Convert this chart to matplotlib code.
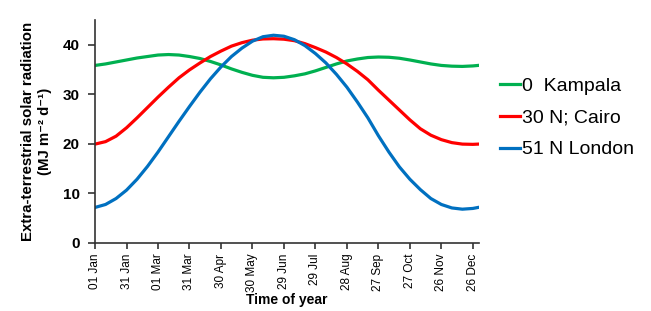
import matplotlib
matplotlib.use('Agg')
import matplotlib.pyplot as plt

# day of year (0 = 01 Jan), values in MJ m-2 d-1
days = [0, 10, 20, 30, 40, 50, 60, 70, 80, 90, 100, 110, 120, 130, 140, 150, 160, 170, 180,
        190, 200, 210, 220, 230, 240, 250, 260, 270, 280, 290, 300, 310, 320, 330, 340, 350,
        360, 365]

kampala = [35.8, 36.1, 36.5, 36.9, 37.3, 37.6, 37.9, 38.0, 37.9, 37.6, 37.2, 36.6, 35.9,
           35.1, 34.4, 33.8, 33.4, 33.3, 33.4, 33.7, 34.1, 34.7, 35.4, 36.1, 36.7, 37.1,
           37.4, 37.5, 37.45, 37.25, 36.9, 36.5, 36.1, 35.8, 35.65, 35.6, 35.7, 35.8]
cairo = [19.9, 20.4, 21.5, 23.2, 25.2, 27.3, 29.4, 31.4, 33.3, 34.9, 36.3, 37.6, 38.7,
         39.7, 40.4, 40.9, 41.15, 41.2, 41.1, 40.8, 40.2, 39.4, 38.5, 37.4, 36.1, 34.6,
         32.9, 30.8, 28.8, 26.8, 24.8, 23.0, 21.7, 20.8, 20.2, 19.9, 19.85, 19.9]
london = [7.1, 7.7, 8.9, 10.6, 12.8, 15.4, 18.3, 21.4, 24.5, 27.5, 30.4, 33.1, 35.5,
          37.6, 39.3, 40.7, 41.6, 41.9, 41.7, 41.0, 39.8, 38.2, 36.3, 34.0, 31.4, 28.4,
          25.2, 21.6, 18.3, 15.3, 12.8, 10.7, 8.9, 7.7, 7.0, 6.75, 6.9, 7.1]

tick_days = [0, 30, 60, 90, 120, 150, 180, 210, 240, 270, 300, 330, 360]
tick_labels = ['01 Jan', '31 Jan', '01 Mar', '31 Mar', '30 Apr', '30 May', '29 Jun',
               '29 Jul', '28 Aug', '27 Sep', '27 Oct', '26 Nov', '26 Dec']

plt.rcParams['font.family'] = ['Liberation Sans', 'DejaVu Sans']

fig = plt.figure(figsize=(6.51, 3.11), dpi=100)
ax = fig.add_axes([0.146, 0.22, 0.59, 0.716])

ax.plot(days, kampala, color='#00B050', lw=2.3, label='0  Kampala')
ax.plot(days, cairo, color='#FF0000', lw=2.3, label='30 N; Cairo')
ax.plot(days, london, color='#0070C0', lw=2.3, label='51 N London')

ax.set_xlim(0, 366)
ax.set_ylim(0, 45)
ax.set_yticks([0, 10, 20, 30, 40])
ax.set_xticks(tick_days)
ax.set_xticklabels(tick_labels, rotation=90, fontsize=8.5)
for lab in ax.get_yticklabels():
    lab.set_fontweight('bold')
    lab.set_fontsize(11)

for s in ['top', 'right']:
    ax.spines[s].set_visible(False)
for s in ['left', 'bottom']:
    ax.spines[s].set_color('#333333')
    ax.spines[s].set_linewidth(1.2)
ax.tick_params(axis='y', length=5, width=1.2, color='#333333', pad=6)
ax.tick_params(axis='x', length=4, width=1.2, color='#333333', pad=4)

fig.text(0.441, 0.012, 'Time of year', fontsize=10, fontweight='bold',
         ha='center', va='bottom')
ax.set_ylabel('Extra-terrestrial solar radiation\n(MJ m\u207b\u00b2 d\u207b\u00b9)',
              fontsize=10.8, fontweight='bold', labelpad=8, linespacing=1.25)

ax.legend(loc='center left', bbox_to_anchor=(1.03, 0.56), frameon=False, fontsize=14,
          handlelength=1.0, handletextpad=0.1, labelspacing=0.73, borderpad=0)

fig.savefig('out.png', dpi=100)
